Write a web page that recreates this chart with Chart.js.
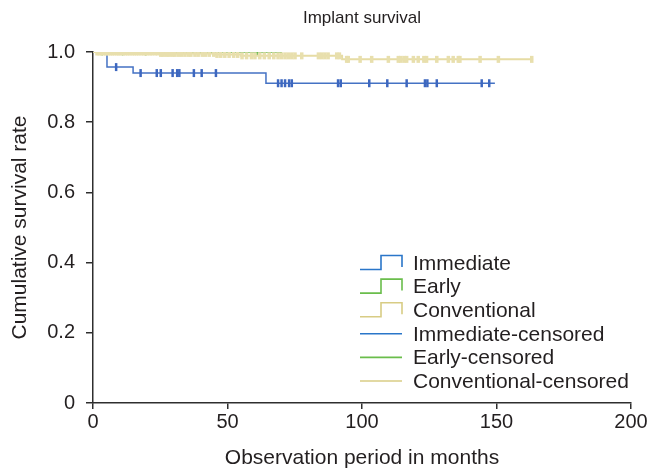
<!DOCTYPE html>
<html>
<head>
<meta charset="utf-8">
<script src="https://cdn.jsdelivr.net/npm/chart.js@4.4.1/dist/chart.umd.min.js"></script>
<style>
  html, body { margin: 0; padding: 0; background: #ffffff; }
  #wrap { width: 651px; height: 469px; }
</style>
</head>
<body>
<div id="wrap"><canvas id="c" width="651" height="469"></canvas></div>
<script>
// ---- data (months, cumulative survival) ----
const chartTitle = "Implant survival";
const xAxisTitle = "Observation period in months";
const yAxisTitle = "Cumulative survival rate";
const xTicks = [0, 50, 100, 150, 200];
const yTicks = [0, 0.2, 0.4, 0.6, 0.8, 1.0];
const legendLabels = ["Immediate", "Early", "Conventional", "Immediate-censored", "Early-censored", "Conventional-censored"];

// step curves: [time, survival after the event]
const immediateSteps = [[0, 1.0], [5.2, 0.957], [14.9, 0.940], [64.3, 0.911], [149.4, 0.911]];
const earlySteps = [[0, 1.0], [70.0, 1.0]];
const conventionalSteps = [[0, 1.0], [25, 0.996], [45, 0.993], [55, 0.989], [92.6, 0.979], [163.6, 0.979]];

// censoring times
const immediateCensored = [8.6, 17.7, 23.7, 25.2, 29.6, 31.3, 32.1, 37.5, 40.4, 45.7, 68.8, 70.1, 71.4, 72.9, 73.9, 91.1, 92.1, 102.7, 109.4, 116.6, 123.4, 124.3, 127.8, 144.5, 147.3];
const earlyCensored = [3.4, 11.0, 19.6, 27.8, 36.2, 44.7, 52.5, 61.0, 69.9];
const conventionalCensored = [1.5, 2.3, 3.1, 4.0, 4.8, 5.6, 6.5, 7.2, 8.0, 8.9, 9.6, 10.4, 11.3, 12.1, 12.9, 13.7, 14.6, 15.4, 16.2, 17.0, 17.9, 18.8, 19.5, 20.3, 21.2, 22.0, 23.1, 24.0, 25.2, 26.1, 27.3, 28.4, 29.6, 30.5, 31.8, 33.0, 34.2, 35.5, 36.4, 37.9, 39.1, 40.6, 41.8, 43.2, 44.9, 46.1, 47.5, 49.0, 50.6, 52.3, 53.8, 55.4, 57.1, 58.9, 60.2, 62.0, 63.7, 65.5, 67.2, 68.8, 70.1, 71.4, 72.6, 73.9, 75.1, 77.6, 83.8, 85.0, 86.2, 87.4, 90.6, 91.6, 94.3, 94.9, 99.3, 103.6, 109.8, 113.5, 114.4, 115.6, 116.6, 119.1, 120.9, 123.0, 124.0, 127.8, 132.1, 133.9, 135.8, 136.4, 143.9, 150.7, 163.1];

// ---- styles ----
const FONT = '"Liberation Sans", Arial, Helvetica, sans-serif';
const TEXT = '#231f20';
const AXIS = '#2e2e2e';
const colBlue = '#4472c4', colGreen = '#66b84c', colYellow = '#e6dca4';
const colBlueMark = '#3d67bf', colYellowMark = '#e8dfad';
const legendColors = ['#2a76c9', '#6abd4b', '#d8cc84', '#2a76c9', '#6abd4b', '#d8cc84'];

function survivalAt(steps, t) {
  let v = steps[0][1];
  for (const [x, y] of steps) { if (x <= t) v = y; }
  return v;
}
const toPts = steps => steps.map(([x, y]) => ({x, y}));
const censorPts = (times, steps) => times.map(t => ({x: t, y: survivalAt(steps, t)}));

function stepDs(label, steps, color, w) {
  return { label, data: toPts(steps), showLine: true, stepped: true, borderColor: color,
           borderWidth: w, pointRadius: 0, fill: false };
}
function censDs(label, times, steps, color, w, r) {
  return { label, data: censorPts(times, steps), showLine: false, borderColor: color, backgroundColor: color,
           pointStyle: 'line', rotation: 90, pointRadius: r, borderWidth: w, pointHoverRadius: r };
}

// first dataset is drawn on top
const datasets = [
  censDs(legendLabels[5], conventionalCensored, conventionalSteps, colYellowMark, 3.5, 3.5),
  stepDs(legendLabels[2], conventionalSteps, colYellow, 2),
  censDs(legendLabels[4], earlyCensored, earlySteps, colGreen, 1.5, 3.5),
  stepDs(legendLabels[1], earlySteps, colGreen, 1.5),
  censDs(legendLabels[3], immediateCensored, immediateSteps, colBlueMark, 2.5, 4),
  stepDs(legendLabels[0], immediateSteps, colBlue, 1.5)
];

const kmLegend = {
  id: 'kmLegend',
  afterDraw(chart) {
    const ctx = chart.ctx;
    const ca = chart.chartArea;
    const x0 = ca.left + 267, x1 = x0 + 21, x2 = x0 + 42, tx = x0 + 53;
    const yStart = ca.top + 211, dy = 23.6;
    ctx.save();
    ctx.font = '21px ' + FONT;
    ctx.textBaseline = 'middle';
    ctx.textAlign = 'left';
    legendLabels.forEach((lab, i) => {
      const y = yStart + i * dy;
      ctx.strokeStyle = legendColors[i];
      ctx.lineWidth = 1.6;
      ctx.beginPath();
      if (i < 3) {
        ctx.moveTo(x0, y + 6.5); ctx.lineTo(x1, y + 6.5); ctx.lineTo(x1, y - 7.5);
        ctx.lineTo(x2, y - 7.5); ctx.lineTo(x2, y + 4);
      } else {
        ctx.moveTo(x0, y); ctx.lineTo(x2, y);
      }
      ctx.stroke();
      ctx.fillStyle = TEXT;
      ctx.fillText(lab, tx, y + 1);
    });
    ctx.restore();
  }
};

new Chart(document.getElementById('c'), {
  type: 'scatter',
  data: { datasets },
  options: {
    responsive: false,
    animation: false,
    events: [],
    layout: { padding: { left: 0, right: 20, top: 0, bottom: 0 } },
    plugins: {
      legend: { display: false },
      tooltip: { enabled: false },
      title: { display: true, text: chartTitle, fullSize: false, color: TEXT,
               font: { family: FONT, size: 17, weight: 'normal', lineHeight: 1.2 },
               padding: { top: 8, bottom: 23.6 } }
    },
    scales: {
      x: {
        type: 'linear', min: xTicks[0], max: xTicks[xTicks.length - 1],
        afterBuildTicks: s => { s.ticks = xTicks.map(v => ({value: v})); },
        afterFit: s => { s.height = 66; },
        ticks: { color: TEXT, font: { family: FONT, size: 20 }, padding: 1, maxRotation: 0 },
        grid: { drawOnChartArea: false, drawTicks: true, tickLength: 6, color: AXIS, lineWidth: 1.5 },
        border: { display: true, color: AXIS, width: 1.5 },
        title: { display: true, text: xAxisTitle, color: TEXT,
                 font: { family: FONT, size: 21, lineHeight: 1.0 }, padding: { top: 0, bottom: 0 } }
      },
      y: {
        type: 'linear', min: yTicks[0], max: yTicks[yTicks.length - 1],
        afterBuildTicks: s => { s.ticks = yTicks.map(v => ({value: v})); },
        afterFit: s => { s.width = 93; },
        ticks: { color: TEXT, font: { family: FONT, size: 20 }, padding: 11,
                 callback: v => v === 0 ? '0' : v.toFixed(1) },
        grid: { drawOnChartArea: false, drawTicks: true, tickLength: 7, color: AXIS, lineWidth: 1.5 },
        border: { display: true, color: AXIS, width: 1.5 },
        title: { display: true, text: yAxisTitle, color: TEXT,
                 font: { family: FONT, size: 21, lineHeight: 1.0 }, padding: { top: 10, bottom: 0 } }
      }
    }
  },
  plugins: [kmLegend]
});
</script>
</body>
</html>
